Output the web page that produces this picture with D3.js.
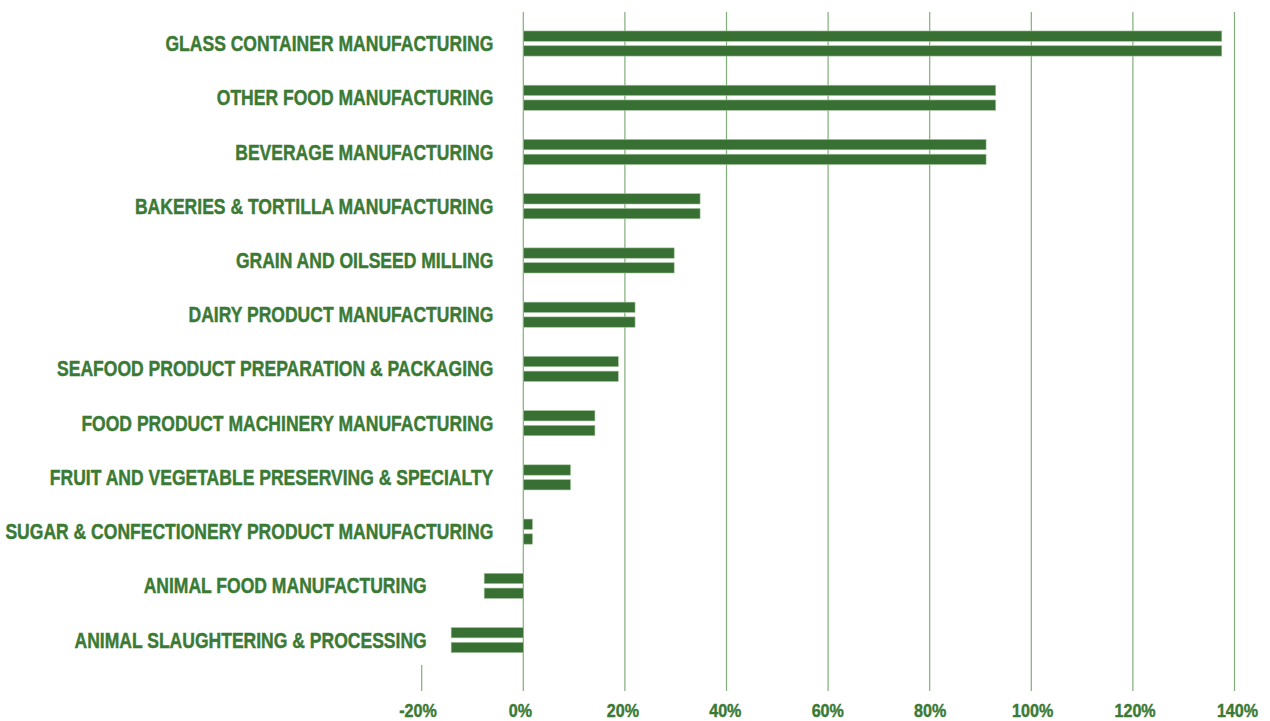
<!DOCTYPE html>
<html>
<head>
<meta charset="utf-8">
<script src="https://cdn.jsdelivr.net/npm/d3@7/dist/d3.min.js"></script>
<style>
  html, body { margin: 0; padding: 0; background: #ffffff; }
  svg { display: block; }
  .lbl { font-family: "Liberation Sans", Arial, sans-serif; font-weight: bold; fill: #3b7a35; stroke: #3b7a35; stroke-width: 0.45; }
</style>
</head>
<body>
<svg id="chart" width="1270" height="721"></svg>
<script>
// Industry categories, top to bottom
const categories = [
  "GLASS CONTAINER MANUFACTURING",
  "OTHER FOOD MANUFACTURING",
  "BEVERAGE MANUFACTURING",
  "BAKERIES & TORTILLA MANUFACTURING",
  "GRAIN AND OILSEED MILLING",
  "DAIRY PRODUCT MANUFACTURING",
  "SEAFOOD PRODUCT PREPARATION & PACKAGING",
  "FOOD PRODUCT MACHINERY MANUFACTURING",
  "FRUIT AND VEGETABLE PRESERVING & SPECIALTY",
  "SUGAR & CONFECTIONERY PRODUCT MANUFACTURING",
  "ANIMAL FOOD MANUFACTURING",
  "ANIMAL SLAUGHTERING & PROCESSING"
];

// Percentage change, upper bar of each pair
const valuesTop = [137.5, 93.0, 91.1, 34.8, 29.7, 22.0, 18.7, 14.1, 9.3, 1.8, -7.7, -14.2];
// Percentage change, lower bar of each pair
const valuesBottom = [137.5, 93.0, 91.1, 34.8, 29.7, 22.0, 18.7, 14.1, 9.3, 1.8, -7.7, -14.2];

// Axis ticks
const tickValues = [-20, 0, 20, 40, 60, 80, 100, 120, 140];
const tickLabels = ["-20%", "0%", "20%", "40%", "60%", "80%", "100%", "120%", "140%"];

const svg = d3.select("#chart");

const x = d3.scaleLinear().domain([-20, 140]).range([421.7, 1234.5]);
const xLabel = d3.scaleLinear().domain([-20, 140]).range([418, 1237.5]);

const y = d3.scaleBand().domain(categories).range([16.4, 667.2]).padding(0);
const bw = y.bandwidth();
const ySeries = d3.scaleBand().domain(["top", "bottom"])
  .range([bw / 2 - 12.55, bw / 2 + 12.55]).paddingInner(0.3).paddingOuter(0);

const gridTop = 12, gridBottom = 691, tickTop = 665;

// Vertical grid lines (the -20% mark only gets a short tick)
svg.append("g").selectAll("line").data(tickValues).join("line")
  .attr("x1", d => x(d)).attr("x2", d => x(d))
  .attr("y1", d => d < 0 ? tickTop : gridTop)
  .attr("y2", gridBottom)
  .attr("stroke", "#7fae78")
  .attr("stroke-width", 1.2);

// Bars
const rows = categories.map((c, i) => ({ cat: c, top: valuesTop[i], bottom: valuesBottom[i] }));
const barG = svg.append("g");
["top", "bottom"].forEach(key => {
  barG.selectAll("rect." + key).data(rows).join("rect")
    .attr("class", key)
    .attr("x", d => x(Math.min(0, d[key])))
    .attr("width", d => Math.abs(x(d[key]) - x(0)))
    .attr("y", d => y(d.cat) + ySeries(key))
    .attr("height", ySeries.bandwidth())
    .attr("fill", "#386f32")
    .attr("stroke", "#a3c49e")
    .attr("stroke-width", 0.6);
});

// Category labels
const labelG = svg.append("g");
const labels = labelG.selectAll("text").data(rows).join("text")
  .attr("class", "lbl")
  .attr("text-anchor", "end")
  .attr("font-size", 21.5)
  .attr("dy", "0.35em")
  .text(d => d.cat);

// Horizontal squeeze so the label type reads as a condensed face
const ref = labels.filter(d => d.cat === categories[0]).node();
const sx = 328 / ref.getComputedTextLength();
labels.attr("transform", d => {
  const xe = d.top >= 0 ? x(0) - 30 : x(-20) + 5;
  const yc = y(d.cat) + bw / 2;
  return `translate(${xe},${yc}) scale(${sx},1)`;
});

// Tick labels
const tl = svg.append("g").selectAll("text").data(tickValues).join("text")
  .attr("class", "lbl")
  .attr("text-anchor", "middle")
  .attr("font-size", 19)
  .text((d, i) => tickLabels[i]);
tl.attr("transform", d => `translate(${xLabel(d)},716.5) scale(${sx * 1.04},1)`);
</script>
</body>
</html>
